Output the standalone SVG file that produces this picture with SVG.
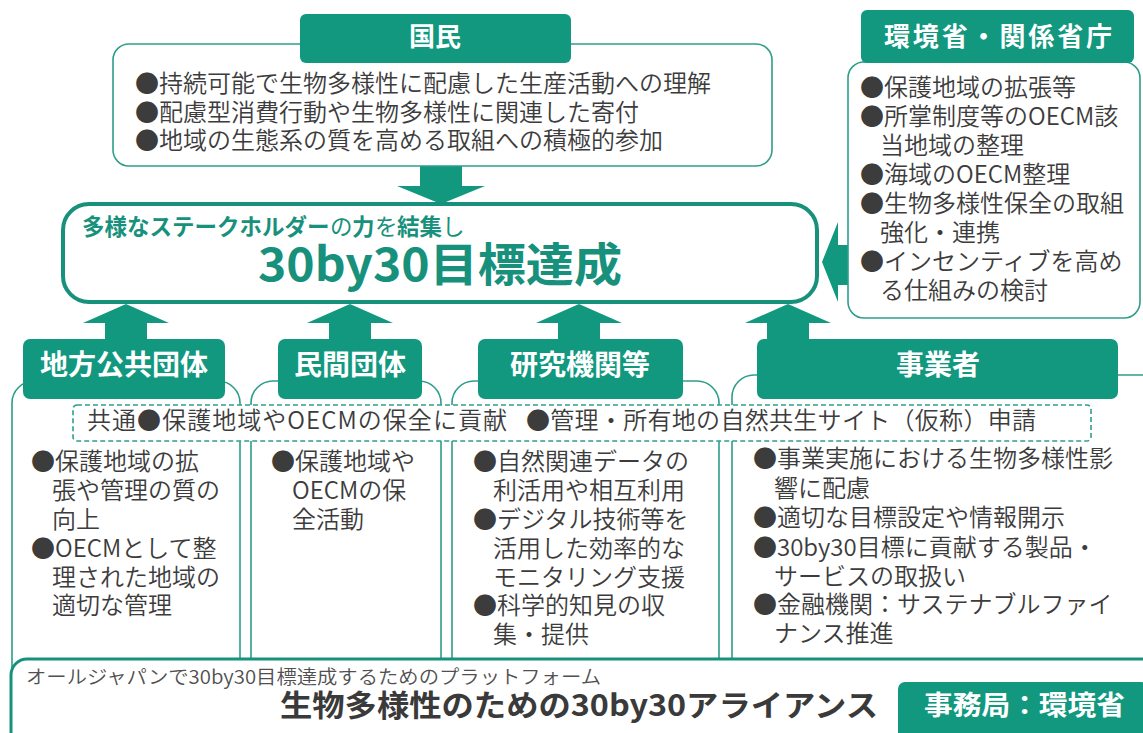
<svg xmlns="http://www.w3.org/2000/svg" width="1143" height="733" viewBox="0 0 1143 733">
<style>
.hdr{fill:#11987f}
.box{fill:#fff;stroke:#2e9e8b;stroke-width:1.6}
.arw{fill:#11987f}
.ht{font-family:"Noto Sans CJK JP","Noto Sans",sans-serif;font-weight:700;fill:#fff;text-anchor:middle}
.t{font-family:"Noto Sans CJK JP","Noto Sans",sans-serif;font-size:24px;font-weight:350;fill:#3c3c3c}
.g{font-family:"Noto Sans CJK JP","Noto Sans",sans-serif;fill:#17917c;font-size:22.5px}
.gb{font-weight:700}
</style>
<rect width="1143" height="733" fill="#fff"/>

<g id="connectors">
  <polygon class="arw" points="420,166 462,166 462,186 485,186 441,204 397,186 420,186"/>
  <polygon class="arw" points="822,262 838,222 838,245 856,245 856,285 838,285 838,302"/>
  <polygon class="arw" points="126,304 169,323 147,323 147,341 105,341 105,323 83,323"/>
  <polygon class="arw" points="350,304 393,323 371,323 371,341 329,341 329,323 307,323"/>
  <polygon class="arw" points="579,304 622,323 600,323 600,341 558,341 558,323 536,323"/>
  <polygon class="arw" points="788,304 831,323 809,323 809,341 767,341 767,323 745,323"/>
</g>

<g id="kokumin">
  <rect class="box" x="113" y="44" width="659" height="122" rx="16"/>
  <rect class="hdr" x="300" y="14" width="271" height="49" rx="6"/>
  <text class="ht" x="435" y="46" font-size="26">国民</text>
  <text class="t" x="135" y="92">●持続可能で生物多様性に配慮した生産活動への理解</text>
  <text class="t" x="135" y="121">●配慮型消費行動や生物多様性に関連した寄付</text>
  <text class="t" x="135" y="149">●地域の生態系の質を高める取組への積極的参加</text>
</g>

<g id="target">
  <rect x="63" y="204" width="754" height="98" rx="26" fill="#fff" stroke="#17917c" stroke-width="4"/>
  <text class="g gb" x="82" y="235">多様なステークホルダー</text>
  <text class="g" x="330" y="235">の</text>
  <text class="g gb" x="352" y="235">力</text>
  <text class="g" x="375" y="235">を</text>
  <text class="g gb" x="397" y="235">結集</text>
  <text class="g" x="442" y="235">し</text>
  <text class="g gb" x="440" y="281" font-size="46" text-anchor="middle" textLength="364" lengthAdjust="spacingAndGlyphs" style="font-size:46px">30by30目標達成</text>
</g>

<g id="kankyosho">
  <rect class="box" x="848" y="62" width="292" height="256" rx="16"/>
  <rect class="hdr" x="861" y="10" width="273" height="53" rx="6"/>
  <text class="ht" x="998" y="46" font-size="26" textLength="228" lengthAdjust="spacing">環境省・関係省庁</text>
  <text class="t" x="860" y="96">●保護地域の拡張等</text>
  <text class="t" x="860" y="125">●所掌制度等のOECM該</text>
  <text class="t" x="880" y="154">当地域の整理</text>
  <text class="t" x="860" y="183">●海域のOECM整理</text>
  <text class="t" x="860" y="212">●生物多様性保全の取組</text>
  <text class="t" x="880" y="241">強化・連携</text>
  <text class="t" x="860" y="270">●インセンティブを高め</text>
  <text class="t" x="880" y="299">る仕組みの検討</text>
</g>

<g id="chiho">
  <rect class="box" x="12" y="381" width="228" height="340" rx="22"/>
  <rect class="hdr" x="23" y="339" width="202" height="60" rx="7"/>
  <text class="ht" x="124" y="375" font-size="28">地方公共団体</text>
  <text class="t" x="31" y="470">●保護地域の拡</text>
  <text class="t" x="52" y="499">張や管理の質の</text>
  <text class="t" x="52" y="528">向上</text>
  <text class="t" x="31" y="557">●OECMとして整</text>
  <text class="t" x="52" y="586">理された地域の</text>
  <text class="t" x="52" y="614">適切な管理</text>
</g>

<g id="minkan">
  <rect class="box" x="251" y="381" width="190" height="340" rx="22"/>
  <rect class="hdr" x="278" y="339" width="144" height="60" rx="7"/>
  <text class="ht" x="350" y="375" font-size="28">民間団体</text>
  <text class="t" x="271" y="470">●保護地域や</text>
  <text class="t" x="292" y="499">OECMの保</text>
  <text class="t" x="292" y="528">全活動</text>
</g>

<g id="kenkyu">
  <rect class="box" x="452" y="381" width="267" height="340" rx="22"/>
  <rect class="hdr" x="478" y="339" width="205" height="60" rx="7"/>
  <text class="ht" x="580" y="375" font-size="28">研究機関等</text>
  <text class="t" x="473" y="470">●自然関連データの</text>
  <text class="t" x="493" y="499">利活用や相互利用</text>
  <text class="t" x="473" y="528">●デジタル技術等を</text>
  <text class="t" x="493" y="557">活用した効率的な</text>
  <text class="t" x="493" y="586">モニタリング支援</text>
  <text class="t" x="473" y="614">●科学的知見の収</text>
  <text class="t" x="493" y="643">集・提供</text>
</g>

<g id="jigyosha">
  <rect class="box" x="732" y="375" width="440" height="346" rx="22"/>
  <rect class="hdr" x="757" y="339" width="361" height="60" rx="7"/>
  <text class="ht" x="938" y="375" font-size="28">事業者</text>
  <text class="t" x="753" y="467">●事業実施における生物多様性影</text>
  <text class="t" x="774" y="497">響に配慮</text>
  <text class="t" x="753" y="526">●適切な目標設定や情報開示</text>
  <text class="t" x="753" y="556">●30by30目標に貢献する製品・</text>
  <text class="t" x="774" y="585">サービスの取扱い</text>
  <text class="t" x="753" y="613">●金融機関：サステナブルファイ</text>
  <text class="t" x="774" y="642">ナンス推進</text>
</g>

<g id="kyotsu">
  <rect x="73" y="405" width="1018" height="36" rx="4" fill="#fff" stroke="#2e9e8b" stroke-width="1.6" stroke-dasharray="5,3"/>
  <text class="t" x="87" y="429" textLength="420" lengthAdjust="spacing">共通●保護地域やOECMの保全に貢献</text>
  <text class="t" x="526" y="429" textLength="510" lengthAdjust="spacing">●管理・所有地の自然共生サイト（仮称）申請</text>
</g>

<g id="alliance">
  <rect x="11" y="659" width="1150" height="90" rx="16" fill="#fff" stroke="#17917c" stroke-width="3"/>
  <text x="26" y="684" font-family="'Noto Sans CJK JP','Noto Sans',sans-serif" font-size="19" font-weight="350" fill="#505050" textLength="575" lengthAdjust="spacingAndGlyphs">オールジャパンで30by30目標達成するためのプラットフォーム</text>
  <text x="280" y="716" font-family="'Noto Sans CJK JP','Noto Sans',sans-serif" font-size="30" font-weight="700" fill="#3a3a3a" textLength="598" lengthAdjust="spacingAndGlyphs">生物多様性のための30by30アライアンス</text>
  <rect class="hdr" x="898" y="682" width="250" height="60" rx="7"/>
  <text x="924" y="715" font-family="'Noto Sans CJK JP','Noto Sans',sans-serif" font-size="27" font-weight="700" fill="#fff" textLength="201" lengthAdjust="spacingAndGlyphs">事務局：環境省</text>
</g>
</svg>
